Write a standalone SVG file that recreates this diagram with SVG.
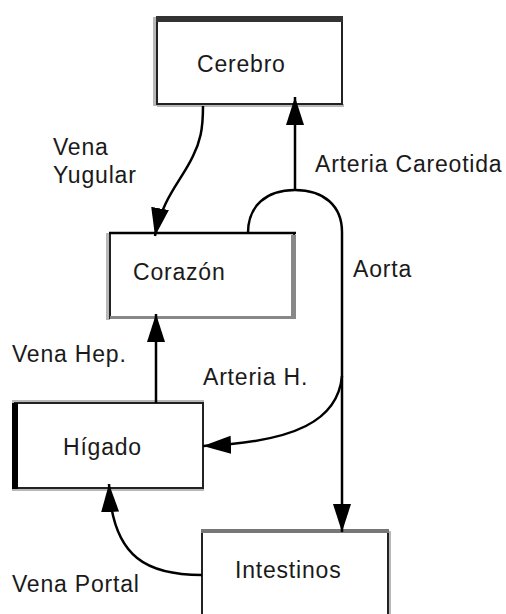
<svg xmlns="http://www.w3.org/2000/svg" width="506" height="614" viewBox="0 0 506 614">
  <defs>
    <marker id="arrow" viewBox="0 0 28 20" refX="28" refY="10" markerWidth="28" markerHeight="20" markerUnits="userSpaceOnUse" orient="auto">
      <path d="M0,1 L28,10 L0,19 Z" fill="#000"/>
    </marker>
  </defs>
  <style>
    text { font-family: "Liberation Sans", Arial, sans-serif; font-size: 23px; letter-spacing: 0.8px; fill: #1a1a1a; }
    .box { fill: #fff; stroke: #222; stroke-width: 2; }
    .shade { fill: #b8b8b8; }
    .conn { fill: none; stroke: #000; stroke-width: 2.5; }
  </style>
  <rect width="506" height="614" fill="#fff"/>

  <!-- organ boxes -->
  <g id="cerebro">
    <rect class="shade" x="153" y="17" width="4" height="89"/>
    <rect class="shade" x="157" y="104" width="187" height="3"/>
    <rect class="box" x="157" y="18" width="185" height="86"/>
    <rect x="156" y="16" width="187" height="6" fill="#333"/>
    <text x="197" y="72">Cerebro</text>
  </g>

  <g id="corazon">
    <rect class="shade" x="106" y="233" width="4" height="87"/>
    <rect class="box" x="110" y="233" width="184" height="85"/>
    <rect x="291" y="235" width="5" height="84" fill="#888"/>
    <rect x="110" y="316" width="186" height="3" fill="#888"/>
    <line x1="109" y1="233" x2="296" y2="233" stroke="#000" stroke-width="2.5"/>
    <text x="133" y="280">Corazón</text>
  </g>

  <g id="higado">
    <rect class="shade" x="12" y="400" width="192" height="3"/>
    <rect class="shade" x="12" y="488" width="192" height="3"/>
    <rect class="box" x="15" y="403" width="188" height="85"/>
    <rect x="12" y="403" width="6" height="86" fill="#000"/>
    <text x="63" y="455">Hígado</text>
  </g>

  <g id="intestinos">
    <rect class="shade" x="388" y="531" width="3" height="83"/>
    <path class="box" d="M202,614 L202,531 L388,531 L388,614"/>
    <rect x="201" y="529" width="188" height="4" fill="#777"/>
    <text x="235" y="578">Intestinos</text>
  </g>

  <!-- vessels -->
  <g id="connectors">
    <!-- Vena Yugular -->
    <path class="conn" d="M203,106 C203,130 200,142 193,156 C182,180 162,198 155,236" marker-end="url(#arrow)"/>
    <!-- Arteria Careotida -->
    <path class="conn" d="M295,190 L295,97" marker-end="url(#arrow)"/>
    <!-- Aorta -->
    <path class="conn" d="M248,233 C248,206 266,190 295,190 C324,190 342,206 342,232 L342,532" marker-end="url(#arrow)"/>
    <!-- Arteria H. -->
    <path class="conn" d="M342,376 C338,420 296,442 203,446" marker-end="url(#arrow)"/>
    <!-- Vena Hep. -->
    <path class="conn" d="M156,403 L156,314" marker-end="url(#arrow)"/>
    <!-- Vena Portal -->
    <path class="conn" d="M202,575 C150,575 112,560 109,484" marker-end="url(#arrow)"/>
  </g>

  <!-- vessel labels -->
  <g id="labels">
    <text x="53" y="155">Vena</text>
    <text x="53" y="183">Yugular</text>
    <text x="315" y="172">Arteria Careotida</text>
    <text x="353" y="277">Aorta</text>
    <text x="12" y="362">Vena Hep.</text>
    <text x="203" y="385">Arteria H.</text>
    <text x="12" y="592">Vena Portal</text>
  </g>
</svg>
